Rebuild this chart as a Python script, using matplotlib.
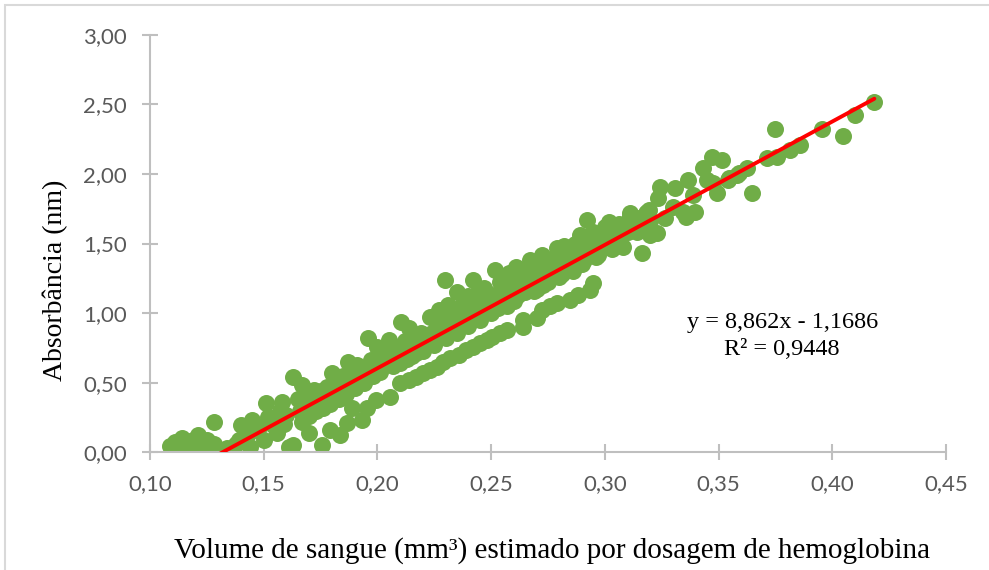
#! /usr/bin/env python3

import matplotlib

matplotlib.use("Agg")
import matplotlib.pyplot as plt
import numpy as np
from matplotlib.patches import Rectangle

# blood volume (mm3) estimated from haemoglobin vs. measured absorbance
volume = [
    0.109, 0.111, 0.113, 0.114, 0.116, 0.117, 0.119, 0.121, 0.121, 0.123,
    0.125, 0.128, 0.128, 0.134, 0.136, 0.138, 0.139, 0.140, 0.142, 0.143,
    0.145, 0.144, 0.147, 0.148, 0.150, 0.151, 0.152, 0.154, 0.155, 0.156,
    0.157, 0.158, 0.159, 0.160, 0.161,
    0.163, 0.165, 0.166, 0.167, 0.167, 0.168, 0.169, 0.170, 0.171, 0.172,
    0.173, 0.174, 0.175, 0.176, 0.177, 0.178, 0.179, 0.180, 0.181, 0.182,
    0.183, 0.184, 0.185, 0.186, 0.187, 0.188, 0.189, 0.190, 0.191, 0.192,
    0.193, 0.194, 0.195, 0.196, 0.197, 0.198, 0.199, 0.200, 0.201, 0.202,
    0.203, 0.204, 0.205,
    0.163, 0.170, 0.1755, 0.179, 0.1835, 0.1865, 0.189, 0.193, 0.1955, 0.1995,
    0.2055, 0.210, 0.214, 0.217, 0.220, 0.223, 0.226, 0.229, 0.232, 0.236,
    0.239, 0.242, 0.245, 0.248, 0.2505, 0.254, 0.257, 0.264, 0.264, 0.270,
    0.2725, 0.276, 0.279, 0.2845, 0.288, 0.2935, 0.295,
    0.206, 0.207, 0.208, 0.209, 0.2105, 0.211, 0.212, 0.213, 0.214, 0.215,
    0.216, 0.217, 0.218, 0.219, 0.220, 0.221, 0.222, 0.223, 0.224, 0.225,
    0.226, 0.227, 0.228, 0.229, 0.2295, 0.230, 0.231, 0.232, 0.233, 0.234,
    0.235, 0.236, 0.237, 0.238, 0.239, 0.240, 0.241, 0.242, 0.243, 0.244,
    0.245, 0.246, 0.247, 0.248, 0.249, 0.250, 0.2515,
    0.210, 0.215, 0.220, 0.225, 0.230, 0.235, 0.240, 0.245, 0.250,
    0.252, 0.253, 0.254, 0.255, 0.256, 0.257, 0.258, 0.259, 0.260, 0.261,
    0.262, 0.263, 0.264, 0.265, 0.266, 0.267, 0.268, 0.269, 0.270, 0.271,
    0.272, 0.2725, 0.273, 0.274, 0.275, 0.276, 0.277, 0.278, 0.279, 0.280,
    0.281, 0.282, 0.283, 0.284, 0.285, 0.286, 0.287, 0.288, 0.289, 0.290,
    0.291, 0.292, 0.293, 0.294, 0.295, 0.296, 0.297, 0.298, 0.299, 0.300,
    0.260, 0.265, 0.270, 0.275, 0.280, 0.286, 0.290, 0.296,
    0.301, 0.302, 0.303, 0.304, 0.305, 0.306, 0.307, 0.308, 0.309, 0.310,
    0.311, 0.312, 0.313, 0.314, 0.315, 0.3165, 0.317, 0.318, 0.3195, 0.320,
    0.3228, 0.3232, 0.3241, 0.3197, 0.3109,
    0.3184, 0.3298, 0.3307, 0.3342, 0.3364, 0.3386, 0.3395, 0.343, 0.3447, 0.3469,
    0.3491, 0.3513, 0.3548, 0.3592, 0.3623, 0.3649, 0.3711, 0.3746, 0.3759, 0.3812,
    0.3856, 0.3953, 0.4045, 0.4102, 0.4185, 0.3359, 0.3263, 0.3474, 0.3579, 0.354,
]
absorbance = [
    0.045, 0.075, 0.03, 0.100, 0.017, 0.067, 0.09, 0.125, 0.017, 0.05,
    0.09, 0.220, 0.06, 0.030, 0.01, 0.06, 0.090, 0.196, 0.180, 0.13,
    0.230, 0.040, 0.16, 0.180, 0.090, 0.355, 0.25, 0.196, 0.23, 0.140,
    0.30, 0.360, 0.20, 0.27, 0.040,
    0.54, 0.38, 0.30, 0.48, 0.22, 0.42, 0.33, 0.26, 0.38, 0.45,
    0.30, 0.36, 0.44, 0.32, 0.40, 0.47, 0.35, 0.57, 0.42, 0.50,
    0.38, 0.46, 0.55, 0.42, 0.65, 0.50, 0.58, 0.46, 0.63, 0.53,
    0.60, 0.50, 0.57, 0.82, 0.66, 0.55, 0.62, 0.755, 0.58, 0.68,
    0.63, 0.72, 0.81,
    0.05, 0.14, 0.05, 0.16, 0.125, 0.21, 0.32, 0.23, 0.32, 0.375,
    0.40, 0.50, 0.52, 0.54, 0.57, 0.59, 0.61, 0.65, 0.68, 0.70,
    0.735, 0.76, 0.785, 0.81, 0.83, 0.86, 0.88, 0.90, 0.95, 0.965,
    1.02, 1.05, 1.07, 1.095, 1.13, 1.165, 1.215,
    0.70, 0.62, 0.76, 0.66, 0.935, 0.72, 0.80, 0.67, 0.89, 0.75,
    0.82, 0.71, 0.78, 0.86, 0.75, 0.83, 0.79, 0.97, 0.86, 0.80,
    0.92, 1.02, 0.88, 0.84, 1.24, 0.96, 1.06, 0.90, 1.00, 0.94,
    1.15, 1.04, 0.96, 1.08, 1.00, 1.12, 0.95, 1.24, 1.06, 1.15,
    1.00, 1.10, 1.18, 1.04, 1.14, 1.07, 1.31,
    0.64, 0.69, 0.73, 0.77, 0.82, 0.86, 0.91, 0.95, 1.00,
    1.12, 1.04, 1.22, 1.08, 1.17, 1.05, 1.29, 1.13, 1.22, 1.33,
    1.13, 1.25, 1.17, 1.30, 1.20, 1.38, 1.26, 1.16, 1.32, 1.24,
    1.36, 1.42, 1.20, 1.30, 1.26, 1.38, 1.30, 1.40, 1.47, 1.34,
    1.28, 1.48, 1.38, 1.32, 1.44, 1.36, 1.50, 1.42, 1.56, 1.46,
    1.38, 1.67, 1.52, 1.44, 1.58, 1.48, 1.42, 1.55, 1.50, 1.62,
    1.09, 1.15, 1.17, 1.22, 1.26, 1.30, 1.35, 1.40,
    1.52, 1.655, 1.46, 1.58, 1.52, 1.64, 1.56, 1.475, 1.62, 1.58,
    1.70, 1.62, 1.66, 1.58, 1.68, 1.43, 1.64, 1.72, 1.74, 1.66,
    1.575, 1.83, 1.905, 1.56, 1.72,
    1.727, 1.76, 1.90, 1.727, 1.956, 1.85, 1.727, 2.04, 1.956, 2.12,
    1.863, 2.10, 1.97, 2.01, 2.04, 1.863, 2.114, 2.32, 2.12, 2.17,
    2.21, 2.32, 2.27, 2.42, 2.52, 1.69, 1.68, 1.935, 1.99, 1.956,
]

# linear trend as reported on the chart
slope = 8.862
intercept = -1.1686
trendLabel = "y = 8,862x - 1,1686\nR² = 0,9448"

xTicks = [0.10, 0.15, 0.20, 0.25, 0.30, 0.35, 0.40, 0.45]
xTickLabels = ["0,10", "0,15", "0,20", "0,25", "0,30", "0,35", "0,40", "0,45"]
yTicks = [0.0, 0.5, 1.0, 1.5, 2.0, 2.5, 3.0]
yTickLabels = ["0,00", "0,50", "1,00", "1,50", "2,00", "2,50", "3,00"]

green = "#70AD47"
axisGrey = "#BFBFBF"
labelGrey = "#595959"

fig = plt.figure(figsize=(9.89, 5.70), dpi=100)
ax = fig.add_axes([0.1517, 0.2065, 0.8048, 0.7326])

ax.scatter(volume, absorbance, s=150, color=green, linewidths=0, zorder=2)

xs = np.array([min(volume), max(volume)])
ax.plot(xs, slope * xs + intercept, color="#FF0000", lw=2.8, zorder=3,
        solid_capstyle="round")

ax.set_xlim(0.10, 0.45)
ax.set_ylim(0.0, 3.0)
ax.set_xticks(xTicks)
ax.set_xticklabels(xTickLabels)
ax.set_yticks(yTicks)
ax.set_yticklabels(yTickLabels)

for side in ["top", "right"]:
    ax.spines[side].set_visible(False)
for side in ["left", "bottom"]:
    ax.spines[side].set_color(axisGrey)
    ax.spines[side].set_linewidth(1.5)

ax.tick_params(axis="both", direction="inout", length=11, width=1.5,
               color=axisGrey, labelcolor=labelGrey, labelsize=16)
ax.tick_params(axis="y", pad=11)
ax.tick_params(axis="x", pad=10)
for lbl in ax.get_xticklabels() + ax.get_yticklabels():
    lbl.set_family(["Lato", "DejaVu Sans"])

fig.text(552 / 989, 1 - 551 / 570,
         "Volume de sangue (mm³) estimado por dosagem de hemoglobina",
         family="Liberation Serif", fontsize=21, ha="center", va="center")
fig.text(55 / 989, 1 - 280 / 570, "Absorbância (nm)", family="Liberation Serif",
         fontsize=20, rotation=90, ha="center", va="center")

ax.text(0.378, 0.835, trendLabel, family="Liberation Serif", fontsize=17.5,
        ha="center", va="center", multialignment="center", linespacing=1.4)

# chart frame, only the top and left edges fall inside the canvas
fig.patches.append(Rectangle((5 / 989, -0.1), 1.2, 1.1 - 5 / 570,
                             transform=fig.transFigure, fill=False,
                             edgecolor="#D9D9D9", lw=1.5))

fig.savefig("out.png", dpi=100)
